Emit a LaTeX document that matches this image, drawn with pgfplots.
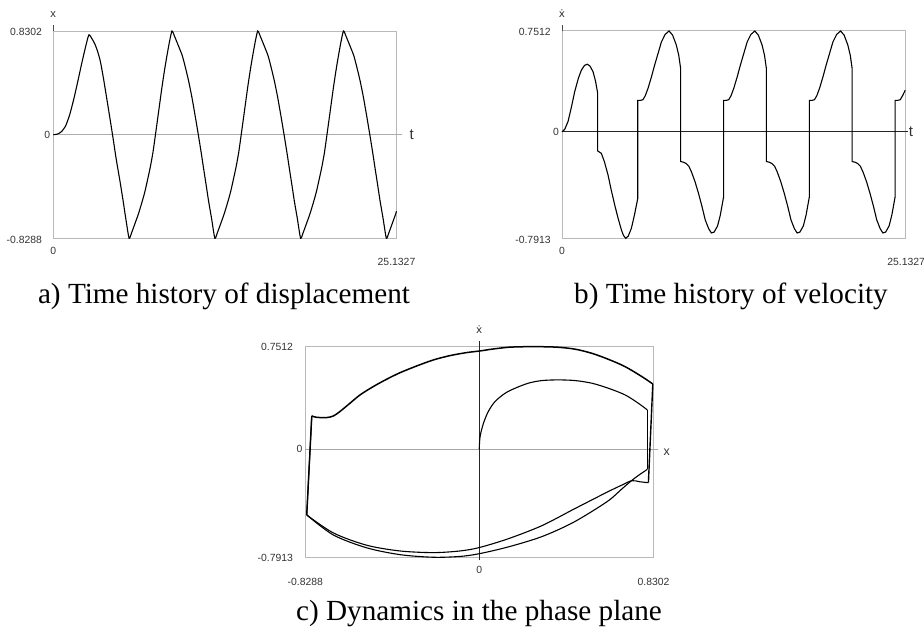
\documentclass[border=0pt]{standalone}
\usepackage{fontspec}
\setmainfont{Liberation Serif}
\newfontfamily\lab{Liberation Sans}
\newfontfamily\dv{DejaVu Sans}
\usepackage{pgfplots}
\pgfplotsset{compat=1.18}

\pgfplotsset{
  panel/.style={scale only axis, anchor=south west, ticks=none, clip=false,
    axis line style={gray!55, line width=0.5pt}},
  curve/.style={black, line width=0.55pt, mark=none},
}
\tikzset{
  lbl/.style={font=\lab\fontsize{5.2}{6}\selectfont, text=black!80, inner sep=0pt},
  captxt/.style={font=\fontsize{14.6}{17}\selectfont, inner sep=0pt, anchor=base},
}

\begin{document}
\begin{tikzpicture}[x=1pt,y=1pt]
\path[use as bounding box] (0,0) rectangle (462,315);

% a) displacement
\begin{axis}[panel, at={(26.65pt,195.85pt)}, width=171.6pt, height=103.65pt,
  xmin=0, xmax=25.1327, ymin=-0.8288, ymax=0.8302]
\draw[gray!65, line width=0.65pt] (axis cs:0,0) -- ([xshift=2.6pt]axis cs:25.1327,0);
\draw[black!70, line width=0.5pt] (rel axis cs:0,1) -- ([yshift=3pt]rel axis cs:0,1);
\addplot[curve, smooth, tension=0.35] coordinates {
 (0,0) (0.3,0.005) (0.6,0.025) (0.9,0.07) (1.2,0.16) (1.5,0.285) (1.8,0.43) (2.1,0.58) (2.4,0.72) (2.61,0.80)
 (2.85,0.765) (3.05,0.725) (3.25,0.665) (3.45,0.585) (3.66,0.46) (3.9,0.30) (4.15,0.13) (4.38,-0.03) (4.6,-0.19) (4.88,-0.37) (5.1,-0.52) (5.3,-0.665) (5.55,-0.8288)
 (5.75,-0.780) (6.00,-0.705) (6.23,-0.635) (6.48,-0.545) (6.72,-0.45) (7.09,-0.266) (7.30,-0.14) (7.48,0.0) (7.70,0.175) (7.95,0.375) (8.15,0.52) (8.31,0.625) (8.50,0.74) (8.69,0.8302)
 (8.89,0.785) (9.17,0.71) (9.44,0.635) (9.66,0.545) (9.91,0.43) (10.15,0.30) (10.39,0.15) (10.62,0.0) (10.84,-0.15) (11.00,-0.266) (11.19,-0.40) (11.37,-0.53) (11.59,-0.67) (11.83,-0.8288)
 (12.03,-0.780) (12.28,-0.705) (12.51,-0.635) (12.76,-0.545) (13.00,-0.45) (13.37,-0.266) (13.58,-0.14) (13.76,0.0) (13.98,0.175) (14.23,0.375) (14.43,0.52) (14.59,0.625) (14.78,0.74) (14.97,0.8302)
 (15.17,0.785) (15.45,0.71) (15.72,0.635) (15.94,0.545) (16.19,0.43) (16.43,0.30) (16.67,0.15) (16.90,0.0) (17.12,-0.15) (17.28,-0.266) (17.47,-0.40) (17.65,-0.53) (17.87,-0.67) (18.11,-0.8288)
 (18.31,-0.780) (18.56,-0.705) (18.79,-0.635) (19.04,-0.545) (19.28,-0.45) (19.65,-0.266) (19.86,-0.14) (20.04,0.0) (20.26,0.175) (20.51,0.375) (20.71,0.52) (20.87,0.625) (21.06,0.74) (21.25,0.8302)
 (21.45,0.785) (21.73,0.71) (22.00,0.635) (22.22,0.545) (22.47,0.43) (22.71,0.30) (22.95,0.15) (23.18,0.0) (23.40,-0.15) (23.56,-0.266) (23.75,-0.40) (23.93,-0.53) (24.15,-0.67) (24.39,-0.8288)
 (24.59,-0.780) (24.84,-0.705) (25.07,-0.635) (25.1327,-0.612)
};
\node[lbl, anchor=east] at ([xshift=-5.5pt,yshift=-0.6pt]rel axis cs:0,1) {0.8302};
\node[lbl, anchor=east] at ([xshift=-1.4pt]axis cs:0,0) {0};
\node[lbl, anchor=east] at ([xshift=-5.5pt,yshift=-0.8pt]rel axis cs:0,0) {-0.8288};
\node[lbl] at ([yshift=-6.2pt]rel axis cs:0,0) {0};
\node[lbl] at ([yshift=-11.7pt]rel axis cs:1,0) {25.1327};
\node[lbl, font=\lab\fontsize{5.6}{6}\selectfont] at ([yshift=8.3pt]rel axis cs:0,1) {x};
\node[lbl, font=\lab\fontsize{7.5}{8}\selectfont] at ([xshift=7.6pt]axis cs:25.1327,0) {t};
\end{axis}

% b) velocity
\begin{axis}[panel, at={(281pt,195.85pt)}, width=171.6pt, height=103.65pt,
  xmin=0, xmax=25.1327, ymin=-0.7913, ymax=0.7512]
\draw[black!85, line width=0.5pt] (axis cs:0,0) -- ([xshift=1.5pt]axis cs:25.1327,0);
\draw[black!70, line width=0.5pt] (rel axis cs:0,1) -- ([yshift=3pt]rel axis cs:0,1);
\addplot[curve] coordinates {
 (0,0) (0.2,0.02) (0.44,0.077) (0.7,0.19) (0.93,0.30) (1.2,0.40) (1.42,0.46) (1.65,0.495) (1.85,0.504) (2.05,0.49) (2.27,0.449) (2.45,0.38) (2.61,0.29)
 (2.61,-0.141) (2.88,-0.159) (3.1,-0.22) (3.37,-0.32) (3.6,-0.43) (3.86,-0.543) (4.1,-0.64) (4.35,-0.729) (4.5,-0.77) (4.67,-0.7913) (4.85,-0.775) (5.08,-0.717) (5.3,-0.62) (5.55,-0.493)
 (5.55,0.235) (5.75,0.235) (5.93,0.24) (6.10,0.27) (6.30,0.325) (6.55,0.41) (6.79,0.50) (7.05,0.59) (7.28,0.67) (7.55,0.725) (7.84,0.7512) (8.10,0.72) (8.37,0.647) (8.55,0.57) (8.69,0.47)
 (8.69,-0.22) (8.89,-0.225) (9.09,-0.235) (9.29,-0.255) (9.49,-0.30) (9.74,-0.37) (9.99,-0.455) (10.24,-0.55) (10.49,-0.655) (10.74,-0.72) (10.94,-0.752) (11.14,-0.745) (11.39,-0.70) (11.59,-0.62) (11.83,-0.485)
 (11.83,0.235) (12.03,0.235) (12.21,0.24) (12.38,0.27) (12.58,0.325) (12.83,0.41) (13.07,0.50) (13.33,0.59) (13.56,0.67) (13.83,0.725) (14.12,0.7512) (14.38,0.72) (14.65,0.647) (14.83,0.57) (14.97,0.47)
 (14.97,-0.22) (15.17,-0.225) (15.37,-0.235) (15.57,-0.255) (15.77,-0.30) (16.02,-0.37) (16.27,-0.455) (16.52,-0.55) (16.77,-0.655) (17.02,-0.72) (17.22,-0.752) (17.42,-0.745) (17.67,-0.70) (17.87,-0.62) (18.11,-0.485)
 (18.11,0.235) (18.31,0.235) (18.49,0.24) (18.66,0.27) (18.86,0.325) (19.11,0.41) (19.35,0.50) (19.61,0.59) (19.84,0.67) (20.11,0.725) (20.40,0.7512) (20.66,0.72) (20.93,0.647) (21.11,0.57) (21.25,0.47)
 (21.25,-0.22) (21.45,-0.225) (21.65,-0.235) (21.85,-0.255) (22.05,-0.30) (22.30,-0.37) (22.55,-0.455) (22.80,-0.55) (23.05,-0.655) (23.30,-0.72) (23.50,-0.752) (23.70,-0.745) (23.95,-0.70) (24.15,-0.62) (24.39,-0.485)
 (24.39,0.235) (24.59,0.235) (24.77,0.24) (24.94,0.27) (25.1327,0.31)
};
\node[lbl, anchor=east] at ([xshift=-5.5pt,yshift=-0.6pt]rel axis cs:0,1) {0.7512};
\node[lbl, anchor=east] at ([xshift=-1.4pt]axis cs:0,0) {0};
\node[lbl, anchor=east] at ([xshift=-5.5pt,yshift=-0.8pt]rel axis cs:0,0) {-0.7913};
\node[lbl] at ([yshift=-6.2pt]rel axis cs:0,0) {0};
\node[lbl] at ([xshift=0.5pt,yshift=-11.7pt]rel axis cs:1,0) {25.1327};
\node[lbl, font=\dv\fontsize{5.2}{6}\selectfont] at ([yshift=8.5pt]rel axis cs:0,1) {ẋ};
\node[lbl, font=\lab\fontsize{7.5}{8}\selectfont] at ([xshift=2.9pt]axis cs:25.1327,0) {t};
\end{axis}

% c) phase plane
\begin{axis}[panel, at={(152.65pt,36.35pt)}, width=174.1pt, height=105.3pt,
  xmin=-0.8288, xmax=0.8302, ymin=-0.7913, ymax=0.7512]
\draw[gray!70, line width=0.45pt] (axis cs:-0.8288,0) -- ([xshift=2.3pt]axis cs:0.8302,0);
\draw[black!85, line width=0.5pt] ([yshift=-1.4pt]axis cs:0,-0.7913) -- ([yshift=2.9pt]axis cs:0,0.7512);
\addplot[curve, smooth] coordinates {
 (0,0) (0.004,0.093) (0.02,0.19) (0.043,0.276) (0.075,0.349) (0.123,0.41) (0.171,0.447) (0.234,0.484) (0.298,0.503) (0.377,0.508) (0.457,0.503) (0.536,0.484) (0.615,0.447) (0.695,0.398) (0.758,0.337) (0.801,0.288)
};
\addplot[curve] coordinates {(0.801,0.288) (0.801,-0.147)};
\addplot[curve, smooth] coordinates {
 (0.801,-0.147) (0.76,-0.19) (0.727,-0.228) (0.68,-0.29) (0.608,-0.385) (0.449,-0.535) (0.298,-0.64) (0.139,-0.715) (0,-0.765) (-0.092,-0.785) (-0.219,-0.791) (-0.377,-0.772) (-0.536,-0.722) (-0.695,-0.628) (-0.822,-0.481)
};
\addplot[curve] coordinates {(-0.822,-0.481) (-0.798,0.244)};
\addplot[curve, line width=0.75pt, smooth] coordinates {
 (-0.798,0.244) (-0.775,0.234) (-0.727,0.232) (-0.695,0.244) (-0.664,0.276) (-0.616,0.337) (-0.568,0.398) (-0.505,0.459) (-0.441,0.513) (-0.377,0.561) (-0.298,0.61) (-0.219,0.654) (-0.139,0.686) (-0.06,0.708) (0.004,0.72) (0.06,0.733) (0.139,0.747) (0.218,0.751) (0.298,0.751) (0.377,0.747) (0.457,0.733) (0.536,0.703) (0.615,0.659) (0.695,0.605) (0.775,0.532) (0.827,0.478)
};
\addplot[curve, line width=0.7pt] coordinates {(0.827,0.478) (0.806,-0.245)};
\addplot[curve, smooth] coordinates {
 (0.806,-0.245) (0.765,-0.238) (0.727,-0.23) (0.68,-0.262) (0.608,-0.315) (0.449,-0.44) (0.298,-0.56) (0.139,-0.655) (0,-0.72) (-0.092,-0.745) (-0.219,-0.757) (-0.377,-0.745) (-0.536,-0.703) (-0.695,-0.613) (-0.822,-0.481)
};
\addplot[curve, line width=0.7pt] coordinates {(-0.822,-0.481) (-0.798,0.244)};
\node[lbl, anchor=east] at ([xshift=-6pt]rel axis cs:0,1) {0.7512};
\node[lbl, anchor=east] at ([xshift=-1.3pt]axis cs:-0.8288,0) {0};
\node[lbl, anchor=east] at ([xshift=-6pt,yshift=-0.5pt]rel axis cs:0,0) {-0.7913};
\node[lbl] at ([yshift=-12.2pt]rel axis cs:0,0) {-0.8288};
\node[lbl] at ([yshift=-6.4pt]axis cs:0,-0.7913) {0};
\node[lbl] at ([yshift=-12.2pt]rel axis cs:1,0) {0.8302};
\node[lbl, font=\dv\fontsize{5.2}{6}\selectfont] at ([yshift=8.7pt]axis cs:0,0.7512) {ẋ};
\node[lbl, font=\lab\fontsize{6.2}{7}\selectfont] at ([xshift=6.6pt,yshift=-1.6pt]axis cs:0.8302,0) {x};
\end{axis}

\node[captxt] at (112,163) {a) Time history of displacement};
\node[captxt] at (365.5,163) {b) Time history of velocity};
\node[captxt] at (239.5,4.5) {c) Dynamics in the phase plane};
\end{tikzpicture}
\end{document}
